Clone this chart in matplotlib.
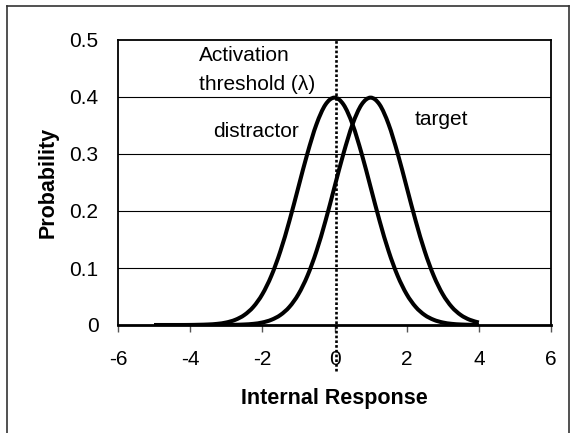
import matplotlib
matplotlib.use("Agg")
import matplotlib.pyplot as plt
from matplotlib.lines import Line2D
from matplotlib.path import Path
from matplotlib.patches import PathPatch

plt.rcParams['font.family'] = ['Liberation Sans', 'DejaVu Sans']

# internal response axis (step 0.25)
x_vals = [-5, -4.75, -4.5, -4.25, -4, -3.75, -3.5, -3.25, -3, -2.75, -2.5, -2.25,
          -2, -1.75, -1.5, -1.25, -1, -0.75, -0.5, -0.25, 0, 0.25, 0.5, 0.75,
          1, 1.25, 1.5, 1.75, 2, 2.25, 2.5, 2.75, 3, 3.25, 3.5, 3.75, 4]

# probability
distractor = [0.0, 0.0, 0.0, 0.0, 0.0001, 0.0004, 0.0009, 0.0020, 0.0044, 0.0091,
              0.0175, 0.0317, 0.0540, 0.0863, 0.1295, 0.1826, 0.2420, 0.3011,
              0.3521, 0.3867, 0.3989, 0.3867, 0.3521, 0.3011, 0.2420, 0.1826,
              0.1295, 0.0863, 0.0540, 0.0317, 0.0175, 0.0091, 0.0044, 0.0020,
              0.0009, 0.0004, 0.0001]
target = [0.0, 0.0, 0.0, 0.0, 0.0, 0.0, 0.0, 0.0, 0.0001, 0.0004, 0.0009, 0.0020,
          0.0044, 0.0091, 0.0175, 0.0317, 0.0540, 0.0863, 0.1295, 0.1826, 0.2420,
          0.3011, 0.3521, 0.3867, 0.3989, 0.3867, 0.3521, 0.3011, 0.2420, 0.1826,
          0.1295, 0.0863, 0.0540, 0.0317, 0.0175, 0.0091, 0.0044]

threshold = 0.05
x_ticks = [-6, -4, -2, 0, 2, 4, 6]
y_ticks = [0, 0.1, 0.2, 0.3, 0.4, 0.5]


#smoothed line like Excel: bezier segments through the points
def smooth_path(xs, ys):
    verts = [(xs[0], ys[0])]
    codes = [Path.MOVETO]
    n = len(xs)
    for i in range(n - 1):
        x0, y0 = xs[max(i - 1, 0)], ys[max(i - 1, 0)]
        x1, y1 = xs[i], ys[i]
        x2, y2 = xs[i + 1], ys[i + 1]
        x3, y3 = xs[min(i + 2, n - 1)], ys[min(i + 2, n - 1)]
        c1 = (x1 + (x2 - x0) / 6, y1 + (y2 - y0) / 6)
        c2 = (x2 - (x3 - x1) / 6, y2 - (y3 - y1) / 6)
        verts += [c1, c2, (x2, y2)]
        codes += [Path.CURVE4] * 3
    return Path(verts, codes)


W, H = 572, 433
fig = plt.figure(figsize=(W / 100, H / 100), dpi=100)
ax = fig.add_axes([118 / W, 1 - 325 / H, (551 - 118) / W, (325 - 40) / H])

# outer chart frame (bottom edge cut off)
fig.add_artist(Line2D([7 / W, 7 / W], [0, 1 - 6 / H], color='#333333', lw=1.2))
fig.add_artist(Line2D([7 / W, 569 / W], [1 - 6 / H, 1 - 6 / H], color='#333333', lw=1.2))
fig.add_artist(Line2D([569 / W, 569 / W], [0, 1 - 6 / H], color='#333333', lw=1.2))

for yv in y_ticks[1:-1]:
    ax.axhline(yv, color='black', lw=0.8, zorder=1)

for series in [distractor, target]:
    ax.add_patch(PathPatch(smooth_path(x_vals, series), facecolor='none',
                           edgecolor='black', lw=2.9, capstyle='butt', zorder=3))

ax.plot([threshold, threshold], [-0.08, 0.5], color='black', lw=1.9,
        linestyle=(0, (1, 0.8)), clip_on=False, zorder=4)

fs = 15
ax.text(-3.76, 0.472, "Activation", fontsize=fs, va='center', ha='left')
ax.text(-3.76, 0.422, "threshold (\u03bb)", fontsize=fs, va='center', ha='left')
ax.text(-3.37, 0.339, "distractor", fontsize=fs, va='center', ha='left')
ax.text(2.23, 0.361, "target", fontsize=fs, va='center', ha='left')

ax.set_xlim(-6, 6)
ax.set_ylim(0, 0.5)
ax.set_xticks(x_ticks)
ax.set_xticklabels([str(t) for t in x_ticks])
ax.set_yticks(y_ticks)
ax.set_yticklabels(['0', '0.1', '0.2', '0.3', '0.4', '0.5'])
ax.tick_params(axis='x', direction='out', length=5, width=1, color='#555555',
               labelsize=fs, pad=13)
ax.tick_params(axis='y', length=0, labelsize=fs, pad=14)

for s in ax.spines.values():
    s.set_linewidth(1.3)
    s.set_color('black')
ax.spines['bottom'].set_linewidth(2)

ax.set_xlabel("Internal Response", fontsize=15.5, fontweight='bold', labelpad=14)
ax.set_ylabel("Probability", fontsize=15.5, fontweight='bold', labelpad=8)

fig.savefig("out.png", dpi=100)
